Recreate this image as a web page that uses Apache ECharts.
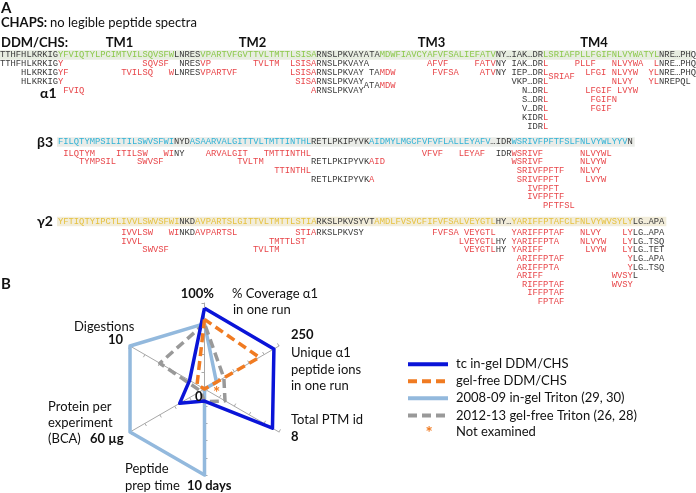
<!DOCTYPE html>
<html><head><meta charset="utf-8">
<script src="https://cdn.jsdelivr.net/npm/echarts@6/dist/echarts.min.js"></script>
<style>html,body{margin:0;padding:0;background:#fff}#c{width:696px;height:493px}</style>
</head><body><div id="c"></div>
<script>
// ---------------- DATA ----------------
// Panel A: sequences (column = residue alignment index)
const alpha1Seq = "TTHFHLKRKIGYFVIQTYLPCIMTVILSQVSFWLNRESVPARTVFGVTTVLTMTTLSISARNSLPKVAYATAMDWFIAVCYAFVFSALIEFATVNY…IAK…DRLSRIAFPLLFGIFNLVYWATYLNRE…PHQ";
const alpha1Start = 0;
const alpha1TM = [[11,32],[38,59],[72,93],[103,124]];
const alpha1Peptides = [
  [1,0,"TTHFHLKRKIGY"],[1,27,"SQVSF"],[1,34,"NRESVP"],[1,48,"TVLTM"],[1,55,"LSISARNSLPKVAYA"],[1,81,"AFVF"],[1,90,"FATVNY"],[1,97,"IAK…DRL"],[1,109,"PLLF"],[1,116,"NLVYWA"],[1,124,"LNRE…PHQ"],
  [2,4,"HLKRKIGYF"],[2,23,"TVILSQ"],[2,32,"WLNRESVPARTVF"],[2,55,"LSISARNSLPKVAY"],[2,70,"TAMDW"],[2,82,"FVFSA"],[2,91,"ATVNY"],[2,97,"IEP…DRL"],[2.45,104,"SRIAF"],[2,111,"LFGI"],[2,116,"NLVYW"],[2,123,"YLNRE…PHQ"],
  [3,4,"HLKRKIGY"],[3,56,"SISARNSLPKVAY"],[3.45,69,"ATAMDW"],[3,97,"VKP…DRL"],[3,116,"NLVY"],[3,123,"YLNREPQL"],
  [4,12,"FVIQ"],[4,59,"ARNSLPKVAY"],[4,99,"N…DRL"],[4,111,"LFGIF"],[4,117,"LVYW"],
  [5,99,"S…DRL"],[5,112,"FGIFN"],
  [6,99,"V…DRL"],[6,112,"FGIF"],
  [7,99,"KIDRL"],
  [8,100,"IDRL"]
];
const beta3Seq = "FILQTYMPSILITILSWVSFWINYDASAARVALGITTVLTMTTINTHLRETLPKIPYVKAIDMYLMGCFVFVFLALLEYAFV…IDRWSRIVFPFTFSLFNLVYWLYYVN";
const beta3Start = 11;
const beta3TM = [[11,32],[36,58],[70,92],[97,118]];
const beta3Peptides = [
  [1,12,"ILQTYM"],[1,22,"ITILSW"],[1,31,"WINY"],[1,39,"ARVALGIT"],[1,50,"TMTTINTHL"],[1,80,"VFVF"],[1,87,"LEYAF"],[1,94,"IDRWSRIVF"],[1,110,"NLVYWL"],
  [2,15,"TYMPSIL"],[2,26,"SWVSF"],[2,45,"TVLTM"],[2,59,"RETLPKIPYVKAID"],[2,97,"WSRIVF"],[2,110,"NLVYW"],
  [3,52,"TTINTHL"],[3,98,"SRIVFPFTF"],[3,110,"NLVY"],
  [4,59,"RETLPKIPYVKA"],[4,98,"SRIVFPFT"],[4,111,"LVYW"],
  [5,100,"IVFPFT"],
  [6,100,"IVFPFTF"],
  [7,103,"PFTFSL"]
];
const gamma2Seq = "YFTIQTYIPCTLIVVLSWVSFWINKDAVPARTSLGITTVLTMTTLSTIARKSLPKVSYVTAMDLFVSVCFIFVFSALVEYGTLHY…YARIFFPTAFCLFNLVYWVSYLYLG…APA";
const gamma2Start = 11;
const gamma2TM = [[11,33],[37,59],[71,93],[97,119]];
const gamma2Peptides = [
  [1,23,"IVVLSW"],[1,32,"WINKDAVPARTSL"],[1,56,"STIARKSLPKVSY"],[1,82,"FVFSA"],[1,88,"VEYGTL"],[1,97,"YARIFFPTAF"],[1,110,"NLVY"],[1,118,"LYLG…APA"],
  [2,23,"IVVL"],[2,51,"TMTTLST"],[2,87,"LVEYGTLHY"],[2,97,"YARIFFPTA"],[2,110,"NLVYW"],[2,118,"LYLG…TSQ"],
  [3,27,"SWVSF"],[3,48,"TVLTM"],[3,88,"VEYGTLHY"],[3,97,"YARIFF"],[3,111,"LVYW"],[3,118,"LYLG…TET"],
  [4,98,"ARIFFPTAF"],[4,119,"YLG…APA"],
  [5,98,"ARIFFPTA"],[5,119,"YLG…TSQ"],
  [6,98,"ARIFF"],[6,116,"WVSYL"],
  [7,99,"RIFFPTAF"],[7,116,"WVSY"],
  [8,100,"IFFPTAF"],
  [9,102,"FPTAF"]
];
const tmLabels = ["TM1","TM2","TM3","TM4"];

// Panel B: radar
const radarIndicators = ["% Coverage α1 in one run","Digestions","Protein per experiment (BCA)","Peptide prep time","Total PTM id","Unique α1 peptide ions in one run"];
const radarMax = [100, 10, 60, 10, 8, 250];
const seriesNames = ["tc in-gel DDM/CHS","gel-free DDM/CHS","2008-09 in-gel Triton (29, 30)","2012-13 gel-free Triton (26, 28)"];
const tcInGel    = [94, 2, 20, 1.4, 7.3, 233];
const gelFree    = [81, 1, 0, 0, 0, 184];
const triton0809 = [76, 10, 60, 10, 0, 40];
const triton1213 = [76, 6, 3, 1.5, 2.2, 65];
const maxLabels = ["100%","10","60 µg","10 days","8","250"];

// ---------------- LAYOUT / STYLE ----------------
const CW = 696/132;
const MONO = '8.8px "Liberation Mono", "DejaVu Sans Mono", monospace';
const SANS = 'Lato, "Open Sans", "DejaVu Sans", sans-serif';
const RED = '#e8464a', DARK = '#3a3a3a';
const TM_LABEL_X = [119.5, 252.5, 431.5, 594];
const G = [];
function txt(x, y, s, opt) {
  opt = opt || {};
  const st = {text: s, fill: opt.fill || '#111', font: opt.font || ('13px ' + SANS),
    align: opt.align || 'left', textAlign: opt.align || 'left',
    verticalAlign: 'middle', textVerticalAlign: 'middle'};
  G.push({type: 'text', x: x, y: y, z: 10, style: st});
}
function inTM(col, tm) { return tm.some(r => col >= r[0] && col <= r[1]); }
function drawRun(col0, y, s, colorFn) {
  let i = 0;
  while (i < s.length) {
    const c = colorFn(col0 + i);
    let j = i;
    while (j < s.length && colorFn(col0 + j) === c) j++;
    txt((col0 + i) * CW, y, s.slice(i, j), {fill: c, font: MONO});
    i = j;
  }
}
function section(seq, start, tm, peps, tmColor, bandColor, mainY, row1Y, step, bandEnd) {
  G.push({type: 'rect', z: 1, shape: {x: start * CW - 1, y: mainY - 4.8, width: (bandEnd != null ? bandEnd : (start + seq.length) * CW + 2) - (start * CW - 1), height: 9.6}, style: {fill: bandColor}});
  drawRun(start, mainY, seq, col => inTM(col, tm) ? tmColor : DARK);
  peps.forEach(p => drawRun(p[1], row1Y + (p[0] - 1) * step, p[2], col => inTM(col, tm) ? RED : DARK));
}
// Panel A headers
txt(1, 8, 'A', {font: 'bold 15px ' + SANS});
txt(1, 23, 'CHAPS:', {font: 'bold 13px ' + SANS});
txt(50, 23, 'no legible peptide spectra', {font: '13px ' + SANS});
txt(1, 43, 'DDM/CHS:', {font: 'bold 13px ' + SANS});
tmLabels.forEach((t, i) => txt(TM_LABEL_X[i], 43, t, {font: 'bold 13px ' + SANS, align: 'center'}));
section(alpha1Seq, alpha1Start, alpha1TM, alpha1Peptides, '#8cc84b', '#e7ede0', 55, 63.8, 8.95, 692);
section(beta3Seq, beta3Start, beta3TM, beta3Peptides, '#2fb2d6', '#eaece8', 142, 153.3, 8.73);
section(gamma2Seq, gamma2Start, gamma2TM, gamma2Peptides, '#e6c13e', '#f2edda', 221.5, 233, 8.56);
txt(40, 93, 'α1', {font: 'bold 14px ' + SANS});
txt(37, 142, 'β3', {font: 'bold 14px ' + SANS});
txt(37, 221.5, 'γ2', {font: 'bold 14px ' + SANS});

// Panel B labels
txt(1, 284, 'B', {font: 'bold 15px ' + SANS});
txt(214, 293.5, maxLabels[0], {font: 'bold 13px ' + SANS, align: 'right'});
txt(232, 293.5, '% Coverage α1');
txt(233, 310, 'in one run');
txt(291, 335, maxLabels[5], {font: 'bold 13px ' + SANS});
txt(291, 353, 'Unique α1');
txt(291, 369.5, 'peptide ions');
txt(291, 386, 'in one run');
txt(291, 420, 'Total PTM id');
txt(291, 437, maxLabels[4], {font: 'bold 13px ' + SANS});
txt(74, 326.5, 'Digestions');
txt(123, 340, maxLabels[1], {font: 'bold 13px ' + SANS, align: 'right'});
txt(48, 406.5, 'Protein per');
txt(48, 422.5, 'experiment');
txt(48, 438.5, '(BCA)');
txt(90, 438.5, maxLabels[2], {font: 'bold 13px ' + SANS});
txt(125, 468.5, 'Peptide');
txt(125, 485.5, 'prep time');
txt(187, 485.5, maxLabels[3], {font: 'bold 13px ' + SANS});
txt(195, 397, '0', {font: 'bold 13px ' + SANS});
txt(213, 394, '*', {font: 'bold 17px ' + SANS, fill: '#f07b22'});

// Legend
const legStyles = [
  {stroke: '#0a14d8', lineWidth: 4},
  {stroke: '#f07b22', lineWidth: 4, lineDash: [9, 5]},
  {stroke: '#93b9dd', lineWidth: 4},
  {stroke: '#999999', lineWidth: 4, lineDash: [9, 5]}
];
const legY = [364.3, 381.3, 398.3, 415.5];
seriesNames.forEach((n, i) => {
  G.push({type: 'line', z: 10, shape: {x1: 408, y1: legY[i], x2: 448, y2: legY[i]}, style: legStyles[i]});
  txt(456, legY[i], n);
});
txt(429, 434, '*', {font: 'bold 17px ' + SANS, fill: '#f07b22', align: 'center'});
txt(456, 432, 'Not examined');

const chart = echarts.init(document.getElementById('c'), null, {renderer: 'canvas'});
chart.setOption({
  animation: false,
  backgroundColor: '#fff',
  radar: {
    center: [204.5, 389], radius: 86, startAngle: 90, splitNumber: 5, shape: 'polygon',
    indicator: radarIndicators.map((n, i) => ({name: n, min: 0, max: radarMax[i]})),
    axisName: {show: false},
    axisLine: {lineStyle: {color: '#a8a8a8', width: 1}},
    axisTick: {show: true, length: 3, lineStyle: {color: '#a8a8a8'}},
    axisLabel: {show: false},
    splitLine: {show: false},
    splitArea: {show: false}
  },
  series: [{
    type: 'radar', symbol: 'none', silent: true,
    data: [
      {name: seriesNames[2], value: triton0809, lineStyle: {color: '#93b9dd', width: 3.5}},
      {name: seriesNames[3], value: triton1213, lineStyle: {color: '#999999', width: 3.5, type: [9, 5]}},
      {name: seriesNames[0], value: tcInGel, lineStyle: {color: '#0a14d8', width: 3.5}},
      {name: seriesNames[1], value: gelFree, lineStyle: {color: '#f07b22', width: 3.5, type: [9, 5]}}
    ]
  }],
  graphic: G
});
</script></body></html>
